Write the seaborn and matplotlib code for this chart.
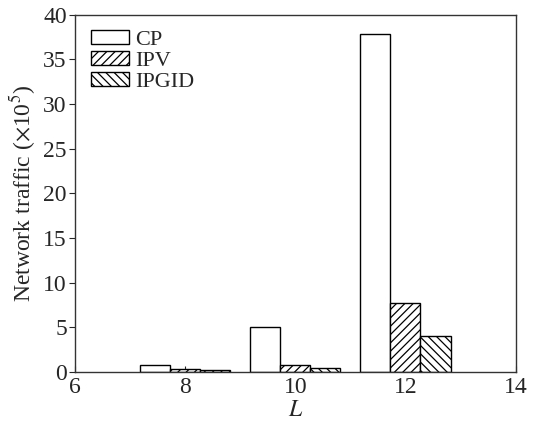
import numpy as np
import pandas as pd
import matplotlib.pyplot as plt
import seaborn as sns

# values
L_values = [8, 10, 12]
cp = [0.72, 5.05, 37.8]
ipv = [0.27, 0.75, 7.7]
ipgid = [0.25, 0.38, 4.0]
methods = ['CP', 'IPV', 'IPGID']
hatches = ['', '////', '\\\\\\\\']

sns.set_style('ticks')
plt.rcParams['font.family'] = ['Liberation Serif', 'DejaVu Serif']
plt.rcParams['mathtext.fontset'] = 'stix'
plt.rcParams['hatch.linewidth'] = 0.9

df = pd.DataFrame({
    'L': L_values * 3,
    'traffic': cp + ipv + ipgid,
    'method': [m for m in methods for _ in L_values],
})

fig = plt.figure(figsize=(5.37, 4.23), dpi=100)
ax = fig.add_axes([0.14, 0.121, 0.82, 0.844])

sns.barplot(data=df, x='L', y='traffic', hue='method', hue_order=methods,
            native_scale=True, width=0.82, palette=['white'] * 3,
            edgecolor='black', linewidth=1.0, saturation=1, ax=ax, legend=False)

for cont, h in zip(ax.containers, hatches):
    for p in cont:
        p.set_hatch(h)

ax.set_xlim(6, 14)
ax.set_ylim(0, 40)
ax.set_xticks([6, 8, 10, 12, 14])
ax.set_yticks(range(0, 41, 5))
ax.tick_params(axis='x', direction='in', length=4, labelsize=17, pad=4)
ax.tick_params(axis='y', direction='out', length=4, labelsize=17, pad=2)
for s in ax.spines.values():
    s.set_visible(True)
    s.set_linewidth(1.0)
    s.set_color('#333333')

ax.set_xlabel('$L$', fontsize=17, labelpad=1)
ax.set_ylabel(r'Network traffic ($\times$10$^5$)', fontsize=17, labelpad=4)

ax.legend(ax.containers, methods, loc='upper left', frameon=False,
          bbox_to_anchor=(0.0, 1.0), handlelength=1.7, handleheight=0.6,
          handletextpad=0.3, labelspacing=0.05, fontsize=16, borderaxespad=0.3)

fig.savefig('out.png', dpi=100)
